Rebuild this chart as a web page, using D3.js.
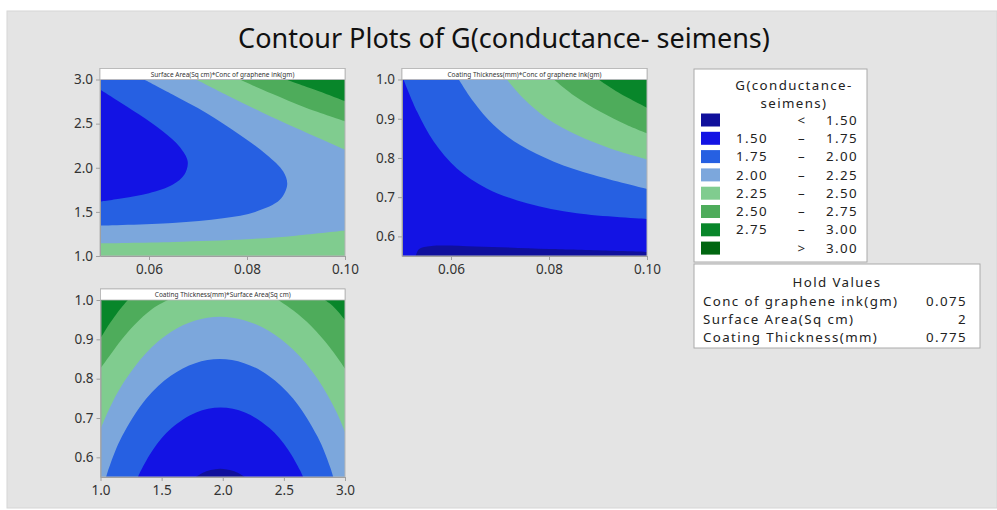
<!DOCTYPE html>
<html lang="en">
<head>
<meta charset="UTF-8">
<title>Contour Plots of G</title>
<script src="https://cdn.jsdelivr.net/npm/d3@7"></script>
<style>
  body { margin: 0; background: #fff; }
  text { font-family: "Noto Sans", "Open Sans", sans-serif; }
  .boxtxt { font-size: 13.3px; letter-spacing: 1.4px; fill: #222; }
</style>
</head>
<body>
<div id="chart"></div>
<script>
// contour levels and legend
var levels = [1.50, 1.75, 2.00, 2.25, 2.50, 2.75, 3.00];
var bandLow  = ["", "1.50", "1.75", "2.00", "2.25", "2.50", "2.75", ""];
var bandSep  = ["<", "–", "–", "–", "–", "–", "–", ">"];
var bandHigh = ["1.50", "1.75", "2.00", "2.25", "2.50", "2.75", "3.00", "3.00"];
var bandColors = ["#10109c", "#1313e4", "#2660e2", "#7ca7dc", "#80cc8f", "#4eac5b", "#08862a", "#006610"];

// hold values
var holdNames  = ["Conc of graphene ink(gm)", "Surface Area(Sq cm)", "Coating Thickness(mm)"];
var holdValues = ["0.075", "2", "0.775"];

// tick values
var concTicks  = [0.06, 0.08, 0.10];
var areaTicks  = [1.0, 1.5, 2.0, 2.5, 3.0];
var thickTicks = [0.6, 0.7, 0.8, 0.9, 1.0];

// contour lines: each one is the edge of the region G >= level,
// "edge" lists the corners of the panel that close that region
var areaVsConc = [
  {level: 1.75, line: [[0.05,2.886],[0.0532,2.773],[0.058,2.602],[0.0628,2.413],[0.0662,2.242],[0.0679,2.072],[0.0672,1.92],[0.0648,1.807],[0.060,1.712],[0.0546,1.655],[0.05,1.617]],
    edge: [[0.05,1],[0.10,1],[0.10,3],[0.05,3]]},
  {level: 2.00, line: [[0.059,3.0],[0.0648,2.83],[0.0717,2.621],[0.0785,2.375],[0.084,2.148],[0.0874,1.958],[0.0882,1.807],[0.0867,1.636],[0.0819,1.504],[0.0751,1.428],[0.0648,1.375],[0.05,1.345]],
    edge: [[0.05,1],[0.10,1],[0.10,3]]},
  {level: 2.25, line: [[0.0696,3.0],[0.076,2.82],[0.083,2.63],[0.090,2.45],[0.10,2.205]],
    edge: [[0.10,3]]},
  {level: 2.25, line: [[0.05,1.144],[0.065,1.16],[0.08,1.19],[0.09,1.23],[0.10,1.288]],
    edge: [[0.10,1],[0.05,1]]},
  {level: 2.50, line: [[0.0785,3.0],[0.085,2.84],[0.092,2.68],[0.10,2.527]],
    edge: [[0.10,3]]},
  {level: 2.75, line: [[0.088,3.0],[0.094,2.88],[0.10,2.754]],
    edge: [[0.10,3]]}
];

var thickVsConc = [
  {level: 1.50, line: [[0.0528,0.55],[0.0535,0.568],[0.056,0.5755],[0.065,0.5745],[0.08,0.568],[0.10,0.5605]],
    edge: [[0.10,1],[0.05,1],[0.05,0.55]]},
  {level: 1.75, line: [[0.0503,1.0],[0.0531,0.9176],[0.0565,0.8412],[0.0612,0.7733],[0.0673,0.7224],[0.0755,0.6842],[0.0857,0.6587],[0.10,0.6442]],
    edge: [[0.10,1]]},
  {level: 2.00, line: [[0.0616,1.0],[0.0646,0.9431],[0.0687,0.8837],[0.0741,0.8327],[0.081,0.7903],[0.0891,0.7563],[0.10,0.7207]],
    edge: [[0.10,1]]},
  {level: 2.25, line: [[0.0714,1.0],[0.0748,0.9516],[0.0796,0.9007],[0.0857,0.8582],[0.0925,0.8242],[0.10,0.7962]],
    edge: [[0.10,1]]},
  {level: 2.50, line: [[0.081,1.0],[0.085,0.9601],[0.0905,0.9176],[0.0959,0.8837],[0.10,0.8625]],
    edge: [[0.10,1]]},
  {level: 2.75, line: [[0.0901,1.0],[0.0939,0.9686],[0.10,0.9278]],
    edge: [[0.10,1]]}
];

var thickVsArea = [
  {level: 1.50, line: [[1.78,0.55],[1.83,0.5595],[1.88,0.566],[1.98,0.5712],[2.08,0.566],[2.13,0.5595],[2.18,0.55]],
    edge: [[3,0.55],[3,1],[1,1],[1,0.55]]},
  {level: 1.75, line: [[1.306,0.55],[1.332,0.5673],[1.432,0.6207],[1.582,0.6743],[1.782,0.7141],[1.982,0.7266],[2.182,0.7141],[2.382,0.6743],[2.532,0.6207],[2.632,0.5673],[2.658,0.55]],
    edge: [[3,0.55],[3,1],[1,1],[1,0.55]]},
  {level: 2.00, line: [[1.046,0.55],[1.075,0.578],[1.175,0.6527],[1.375,0.7496],[1.575,0.8077],[1.775,0.8395],[1.975,0.8497],[2.175,0.8395],[2.375,0.8077],[2.575,0.7496],[2.775,0.6527],[2.875,0.578],[2.904,0.55]],
    edge: [[3,0.55],[3,1],[1,1],[1,0.55]]},
  {level: 2.25, line: [[1.0,0.6714],[1.075,0.7253],[1.175,0.7833],[1.375,0.866],[1.575,0.9186],[1.775,0.948],[1.975,0.9575],[2.175,0.9488],[2.375,0.9219],[2.575,0.8742],[2.775,0.7999],[2.925,0.7185],[3.0,0.6646]],
    edge: [[3,1],[1,1]]},
  {level: 2.50, line: [[1.0,0.8259],[1.075,0.858],[1.175,0.90],[1.275,0.936],[1.425,0.978],[1.552,1.0]],
    edge: [[1,1]]},
  {level: 2.50, line: [[2.454,1.0],[2.575,0.9737],[2.725,0.9333],[2.875,0.880],[3.0,0.8259]],
    edge: [[3,1]]},
  {level: 2.75, line: [[1.0,0.9024],[1.075,0.940],[1.125,0.962],[1.175,0.982],[1.224,1.0]],
    edge: [[1,1]]},
  {level: 2.75, line: [[2.836,1.0],[2.90,0.985],[2.95,0.968],[3.0,0.949]],
    edge: [[3,1]]}
];

var W = 997, H = 510;
var svg = d3.select("#chart").append("svg")
  .attr("width", W).attr("height", H);

// grey page
svg.append("rect")
  .attr("x", 7).attr("y", 11).attr("width", W - 7).attr("height", 497)
  .attr("fill", "#e4e4e4").attr("stroke", "#d6d6d6");

svg.append("text")
  .attr("x", 504).attr("y", 48)
  .attr("text-anchor", "middle")
  .style("font-size", "27px").style("fill", "#111")
  .text("Contour Plots of G(conductance- seimens)");

var panels = [
  {name: "Surface Area(Sq cm)*Conc of graphene ink(gm)", data: areaVsConc, base: 1,
   xDom: [0.05, 0.10], yDom: [1, 3], xTicks: concTicks, yTicks: areaTicks, xFmt: ".2f",
   left: 100, right: 345, top: 79.5, bottom: 256},
  {name: "Coating Thickness(mm)*Conc of graphene ink(gm)", data: thickVsConc, base: 0,
   xDom: [0.05, 0.10], yDom: [0.55, 1.0], xTicks: concTicks, yTicks: thickTicks, xFmt: ".2f",
   left: 402, right: 647, top: 79.5, bottom: 256},
  {name: "Coating Thickness(mm)*Surface Area(Sq cm)", data: thickVsArea, base: 0,
   xDom: [1, 3], yDom: [0.55, 1.0], xTicks: areaTicks, yTicks: thickTicks, xFmt: ".1f",
   left: 100.5, right: 345, top: 300, bottom: 477}
];

panels.forEach(function(p, i) {
  var x = d3.scaleLinear().domain(p.xDom).range([p.left, p.right]);
  var y = d3.scaleLinear().domain(p.yDom).range([p.bottom, p.top]);

  var clipId = "clip" + i;
  svg.append("clipPath").attr("id", clipId)
    .append("rect")
    .attr("x", p.left).attr("y", p.top)
    .attr("width", p.right - p.left).attr("height", p.bottom - p.top);

  var g = svg.append("g").attr("clip-path", "url(#" + clipId + ")");

  g.append("rect")
    .attr("x", p.left).attr("y", p.top)
    .attr("width", p.right - p.left).attr("height", p.bottom - p.top)
    .attr("fill", bandColors[p.base]);

  var line = d3.line()
    .x(function(d) { return x(d[0]); })
    .y(function(d) { return y(d[1]); })
    .curve(d3.curveCatmullRom.alpha(0.5));

  var sorted = p.data.slice().sort(function(a, b) { return a.level - b.level; });
  g.selectAll("path.band")
    .data(sorted)
    .enter().append("path")
    .attr("class", "band")
    .attr("d", function(c) {
      var tail = c.edge.map(function(e) { return "L" + x(e[0]) + "," + y(e[1]); }).join("");
      return line(c.line) + tail + "Z";
    })
    .attr("fill", function(c) { return bandColors[levels.indexOf(c.level) + 1]; });

  // frame
  svg.append("rect")
    .attr("x", p.left).attr("y", p.top - 11)
    .attr("width", p.right - p.left).attr("height", p.bottom - p.top + 11)
    .attr("fill", "none").attr("stroke", "#b4b4b4");

  // header strip
  svg.append("rect")
    .attr("x", p.left).attr("y", p.top - 11)
    .attr("width", p.right - p.left).attr("height", 11)
    .attr("fill", "#fff").attr("stroke", "#b4b4b4").attr("stroke-width", 0.8);
  svg.append("text")
    .attr("x", (p.left + p.right) / 2).attr("y", p.top - 3)
    .attr("text-anchor", "middle")
    .style("font-size", "6.5px").style("fill", "#333")
    .text(p.name);

  var ax = svg.append("g")
    .attr("transform", "translate(0," + p.bottom + ")")
    .call(d3.axisBottom(x).tickValues(p.xTicks).tickFormat(d3.format(p.xFmt)).tickSize(4).tickSizeOuter(0));
  var ay = svg.append("g")
    .attr("transform", "translate(" + p.left + ",0)")
    .call(d3.axisLeft(y).tickValues(p.yTicks).tickFormat(d3.format(".1f")).tickSize(4).tickSizeOuter(0));

  [ax, ay].forEach(function(a) {
    a.select(".domain").attr("stroke", "#a0a0a0");
    a.selectAll(".tick line").attr("stroke", "#a0a0a0");
    a.selectAll(".tick text")
      .style("font-family", "'Noto Sans', sans-serif")
      .style("font-size", "13.5px").style("fill", "#333");
  });
  ax.selectAll(".tick text").attr("y", 8);
});

// legend
var lg = svg.append("g");
lg.append("rect")
  .attr("x", 694).attr("y", 69).attr("width", 173).attr("height", 193)
  .attr("fill", "#fff").attr("stroke", "#aaa");
lg.append("text").attr("class", "boxtxt").attr("x", 794).attr("y", 85).attr("dy", "0.35em").attr("text-anchor", "middle")
  .text("G(conductance-");
lg.append("text").attr("class", "boxtxt").attr("x", 794).attr("y", 103.3).attr("dy", "0.35em").attr("text-anchor", "middle")
  .text("seimens)");

var rows = lg.selectAll("g.row")
  .data(bandColors)
  .enter().append("g")
  .attr("class", "row")
  .attr("transform", function(d, i) { return "translate(0," + (120 + i * 18.3) + ")"; });
rows.append("rect")
  .attr("x", 701).attr("y", -6.5).attr("width", 19).attr("height", 13)
  .attr("fill", function(d) { return d; });
rows.append("text").attr("class", "boxtxt").attr("x", 768).attr("dy", "0.35em").attr("text-anchor", "end")
  .text(function(d, i) { return bandLow[i]; });
rows.append("text").attr("class", "boxtxt").attr("x", 802).attr("dy", "0.35em").attr("text-anchor", "middle")
  .text(function(d, i) { return bandSep[i]; });
rows.append("text").attr("class", "boxtxt").attr("x", 858).attr("dy", "0.35em").attr("text-anchor", "end")
  .text(function(d, i) { return bandHigh[i]; });

// hold values box
var hv = svg.append("g");
hv.append("rect")
  .attr("x", 694).attr("y", 264).attr("width", 286).attr("height", 84)
  .attr("fill", "#fff").attr("stroke", "#aaa");
hv.append("text").attr("class", "boxtxt").attr("x", 837).attr("y", 282).attr("dy", "0.35em").attr("text-anchor", "middle")
  .text("Hold Values");
holdNames.forEach(function(n, i) {
  hv.append("text").attr("class", "boxtxt").attr("x", 703).attr("y", 301 + i * 18.3).attr("dy", "0.35em")
    .text(n);
  hv.append("text").attr("class", "boxtxt").attr("x", 967).attr("y", 301 + i * 18.3).attr("dy", "0.35em").attr("text-anchor", "end")
    .text(holdValues[i]);
});
</script>
</body>
</html>
